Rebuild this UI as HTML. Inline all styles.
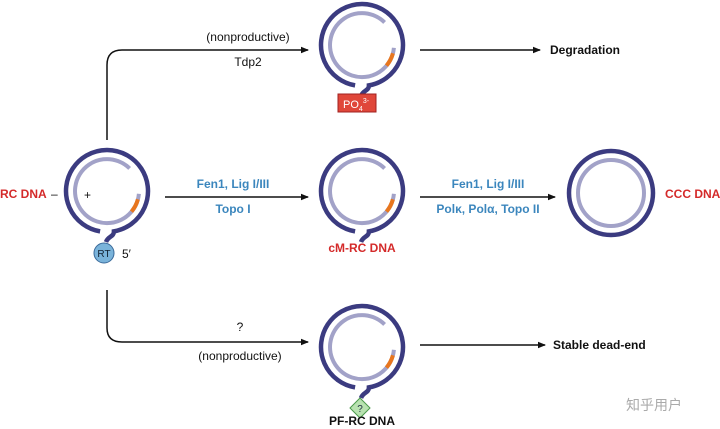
<!DOCTYPE html>
<html><head><meta charset="utf-8"><style>
body{margin:0;background:#fff;}
svg{display:block;font-family:"Liberation Sans",sans-serif;}
.b{fill:#3b86bd;font-weight:bold;font-size:12px;text-anchor:middle}
.r{fill:#d42a2a;font-weight:bold;font-size:12px}
.k{fill:#111;font-size:12px}
.kb{fill:#111;font-weight:bold;font-size:12px}
</style></head><body>
<svg width="720" height="429" viewBox="0 0 720 429" xmlns="http://www.w3.org/2000/svg">
<defs>
<marker id="ah" markerWidth="8" markerHeight="8" refX="7" refY="4" orient="auto" markerUnits="userSpaceOnUse">
<path d="M0,0.8 L8,4 L0,7.2 z" fill="#111"/></marker>
<g id="rc">
<path d="M-6.9,40.4 A41,41 0 1 1 6.9,40.4 C7,46 1,45 -1,51" fill="none" stroke="#3b3b80" stroke-width="4.5"/>
<path d="M31.9,2.8 A32,32 0 1 1 22.6,-22.6" fill="none" stroke="#a2a2c8" stroke-width="4"/>
<path d="M30.9,8.3 A32,32 0 0 1 24.5,20.6" fill="none" stroke="#e8761e" stroke-width="4"/>
</g>
</defs>
<g fill="none" stroke="#111" stroke-width="1.5">
<path d="M107,140 V65 Q107,50 122,50 H308" marker-end="url(#ah)"/>
<path d="M107,290 V328 Q107,342 122,342 H308" marker-end="url(#ah)"/>
<path d="M165,197 H308" marker-end="url(#ah)"/>
<path d="M420,197 H555" marker-end="url(#ah)"/>
<path d="M420,50 H540" marker-end="url(#ah)"/>
<path d="M420,345 H545" marker-end="url(#ah)"/>
</g>
<use href="#rc" x="107" y="191"/>
<use href="#rc" x="362" y="45"/>
<use href="#rc" x="362" y="191"/>
<use href="#rc" x="362" y="347"/>
<circle cx="611" cy="193" r="42" fill="none" stroke="#3b3b80" stroke-width="4.5"/>
<circle cx="611" cy="193" r="33" fill="none" stroke="#a2a2c8" stroke-width="4"/>
<rect x="338" y="94" width="38" height="18" fill="#e0473a" stroke="#a02020"/>
<text x="343" y="108" font-size="11" fill="#fff">PO<tspan font-size="7" dy="3">4</tspan><tspan font-size="7" dy="-8">3-</tspan></text>
<circle cx="104" cy="253" r="10" fill="#7ab3da" stroke="#3a6a9a" stroke-width="1"/>
<text x="104" y="257" font-size="10" fill="#123" text-anchor="middle">RT</text>
<text x="122" y="258" class="k">5′</text>
<path d="M360,398 L370,408 L360,418 L350,408 z" fill="#b8e2b0" stroke="#4a9a4a"/>
<text x="360" y="412" font-size="10" fill="#234" text-anchor="middle">?</text>
<text x="0" y="198" class="r">RC DNA</text>
<text x="51" y="198" class="k">–</text>
<text x="84" y="199" class="k">+</text>
<text x="248" y="41" class="k" text-anchor="middle">(nonproductive)</text>
<text x="248" y="66" class="k" text-anchor="middle">Tdp2</text>
<text x="233" y="188" class="b">Fen1, Lig I/III</text>
<text x="233" y="213" class="b">Topo I</text>
<text x="488" y="188" class="b">Fen1, Lig I/III</text>
<text x="488" y="213" class="b">Polκ, Polα, Topo II</text>
<text x="362" y="252" class="r" text-anchor="middle">cM-RC DNA</text>
<text x="665" y="198" class="r">CCC DNA</text>
<text x="550" y="54" class="kb">Degradation</text>
<text x="240" y="331" class="k" text-anchor="middle">?</text>
<text x="240" y="360" class="k" text-anchor="middle">(nonproductive)</text>
<text x="553" y="349" class="kb">Stable dead-end</text>
<text x="362" y="425" class="kb" text-anchor="middle">PF-RC DNA</text>
<text x="626" y="410" font-size="14" fill="#aaa" font-family="'Liberation Sans','Noto Sans CJK SC',sans-serif">知乎用户</text>
</svg>
</body></html>
